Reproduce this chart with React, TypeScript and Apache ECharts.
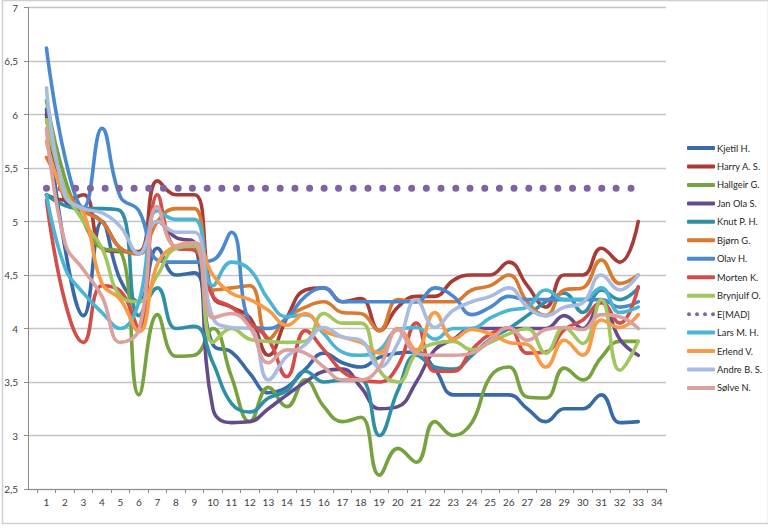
import React, { useEffect, useRef } from "react";
import * as echarts from "echarts";

const categories = [1, 2, 3, 4, 5, 6, 7, 8, 9, 10, 11, 12, 13, 14, 15, 16, 17, 18, 19, 20, 21, 22, 23, 24, 25, 26, 27, 28, 29, 30, 31, 32, 33, 34];
const yTicks = [2.5, 3, 3.5, 4, 4.5, 5, 5.5, 6, 6.5, 7];

const kjetil = [6.05, 4.75, 4.12, 5.0, 4.45, 4.25, 4.75, 4.5, 4.52, 3.85, 3.78, 3.58, 3.4, 3.45, 3.62, 3.77, 3.68, 3.64, 3.73, 3.77, 3.78, 3.62, 3.38, 3.38, 3.38, 3.38, 3.25, 3.13, 3.25, 3.25, 3.38, 3.12, 3.13];
const harry = [5.25, 5.2, 5.25, 4.75, 4.72, 4.72, 5.38, 5.25, 5.25, 4.3, 4.2, 4.1, 3.75, 4.1, 4.36, 4.38, 4.25, 4.28, 3.98, 4.2, 4.3, 4.3, 4.45, 4.5, 4.5, 4.62, 4.4, 4.2, 4.5, 4.5, 4.75, 4.62, 5.0];
const hallgeir = [6.13, 5.4, 5.0, 4.75, 4.72, 3.38, 4.13, 3.74, 3.75, 4.0, 3.55, 3.13, 3.45, 3.27, 3.52, 3.27, 3.13, 3.17, 2.63, 2.88, 2.75, 3.13, 3.0, 3.12, 3.55, 3.64, 3.36, 3.35, 3.63, 3.52, 3.73, 3.88, 3.88];
const janOla = [6.0, 5.2, 5.1, 5.0, 4.75, 4.7, 5.0, 4.85, 4.8, 3.25, 3.12, 3.13, 3.25, 3.38, 3.5, 3.6, 3.62, 3.45, 3.25, 3.27, 3.5, 3.8, 3.9, 4.0, 4.0, 4.0, 4.0, 4.0, 4.12, 4.0, 4.25, 3.9, 3.75];
const knut = [5.25, 5.15, 5.12, 5.12, 5.1, 4.12, 4.38, 4.0, 4.02, 3.68, 3.3, 3.22, 3.35, 3.42, 3.6, 3.5, 3.52, 3.52, 3.0, 3.42, 3.75, 3.64, 3.62, 3.75, 3.9, 4.0, 4.12, 4.25, 4.33, 4.15, 4.36, 4.27, 4.38];
const bjorn = [5.6, 5.3, 5.1, 5.0, 4.75, 4.7, 5.0, 5.12, 5.12, 4.36, 4.38, 4.4, 3.9, 4.1, 4.2, 4.25, 4.15, 4.14, 3.98, 4.27, 4.25, 4.25, 4.25, 4.36, 4.4, 4.5, 4.25, 4.12, 4.36, 4.38, 4.64, 4.42, 4.5];
const olav = [6.62, 5.6, 5.13, 5.87, 5.23, 5.1, 4.64, 4.62, 4.62, 4.64, 4.9, 4.05, 4.0, 4.1, 4.3, 4.38, 4.25, 4.25, 4.25, 4.25, 4.25, 4.38, 4.3, 4.13, 4.2, 4.3, 4.27, 4.27, 4.27, 4.27, 4.27, 4.2, 4.25];
const morten = [5.2, 4.25, 3.87, 4.4, 4.35, 4.0, 5.25, 4.75, 4.73, 4.3, 4.2, 4.05, 3.9, 3.55, 3.98, 3.8, 3.6, 3.52, 3.5, 3.65, 4.05, 3.6, 3.6, 3.8, 3.95, 4.0, 3.77, 3.78, 3.99, 4.08, 4.24, 4.05, 4.39];
const brynjulf = [5.95, 5.3, 5.0, 4.75, 4.3, 4.25, 4.5, 4.75, 4.77, 3.87, 4.0, 3.9, 3.88, 3.87, 3.88, 4.14, 4.05, 4.05, 3.61, 3.5, 3.77, 3.86, 3.88, 3.8, 3.87, 3.95, 4.0, 3.77, 4.01, 3.86, 4.27, 3.61, 3.88];
const emad = [5.31, 5.31, 5.31, 5.31, 5.31, 5.31, 5.31, 5.31, 5.31, 5.31, 5.31, 5.31, 5.31, 5.31, 5.31, 5.31, 5.31, 5.31, 5.31, 5.31, 5.31, 5.31, 5.31, 5.31, 5.31, 5.31, 5.31, 5.31, 5.31, 5.31, 5.31, 5.31, 5.31];
const lars = [5.25, 4.57, 4.33, 4.15, 4.0, 4.25, 5.1, 5.02, 5.02, 4.4, 4.62, 4.55, 4.27, 4.11, 4.13, 3.95, 3.78, 3.75, 3.8, 3.99, 4.01, 3.9, 4.0, 4.0, 4.1, 4.17, 4.2, 4.36, 4.27, 4.27, 4.38, 4.15, 4.2];
const erlend = [5.75, 5.23, 5.08, 4.42, 4.27, 3.97, 4.6, 4.77, 4.8, 4.5, 4.33, 4.27, 4.17, 4.03, 4.14, 3.98, 3.92, 3.87, 3.77, 4.0, 3.8, 4.15, 3.9, 3.99, 3.95, 3.87, 3.85, 3.64, 3.89, 3.75, 4.08, 4.01, 4.13];
const andre = [6.25, 5.25, 5.12, 5.08, 4.95, 4.7, 5.0, 4.9, 4.9, 4.1, 4.01, 4.0, 3.52, 3.74, 3.85, 4.01, 3.92, 3.89, 3.64, 3.86, 4.27, 4.01, 4.17, 4.25, 4.3, 4.38, 4.2, 4.12, 4.2, 4.24, 4.5, 4.36, 4.5];
const solve = [5.87, 4.8, 4.55, 4.3, 3.87, 3.99, 5.14, 4.77, 4.8, 4.1, 4.14, 4.01, 3.68, 3.8, 3.77, 3.64, 3.52, 3.52, 3.64, 3.99, 3.77, 3.75, 3.75, 3.77, 3.89, 4.01, 3.89, 3.99, 4.01, 3.99, 4.13, 4.11, 4.0];

const seriesNames = ["Kjetil H.", "Harry A. S.", "Hallgeir G.", "Jan Ola S.", "Knut P. H.", "Bjørn G.", "Olav H.", "Morten K.", "Brynjulf O.", "E[MAD]", "Lars M. H.", "Erlend V.", "Andre B. S.", "Sølve N."];
const seriesValues = [kjetil, harry, hallgeir, janOla, knut, bjorn, olav, morten, brynjulf, emad, lars, erlend, andre, solve];
const seriesColors = ["#386AA8", "#A63B37", "#77A33E", "#644B8C", "#2F8FA6", "#D87A30", "#4A88D0", "#D34D4A", "#A2C65E", "#8064A2", "#4BB5D5", "#F99A45", "#A8BBE0", "#DCA09E"];

const FONT = "Lato";
const dotsIcon =
  "path://M0,2a2,2 0 1,0 4,0a2,2 0 1,0 -4,0zM8,2a2,2 0 1,0 4,0a2,2 0 1,0 -4,0zM16,2a2,2 0 1,0 4,0a2,2 0 1,0 -4,0zM24,2a2,2 0 1,0 4,0a2,2 0 1,0 -4,0z";

export default function App() {
  const ref = useRef<HTMLDivElement>(null);
  useEffect(() => {
    if (!ref.current) return;
    const chart = echarts.init(ref.current, null, { renderer: "svg" });
    const series = seriesNames.map((name, k) => {
      const isMad = name === "E[MAD]";
      return {
        name,
        type: "line",
        smooth: 0.45,
        showSymbol: false,
        symbol: "none",
        data: seriesValues[k].map((v, i) => [categories[i], v]),
        lineStyle: isMad
          ? { color: seriesColors[k], width: 7, type: [0.01, 14.6], cap: "round" }
          : { color: seriesColors[k], width: 3.6, cap: "round", join: "round" },
        itemStyle: { color: seriesColors[k] },
        emphasis: { disabled: true },
      };
    });
    chart.setOption({
      animation: false,
      backgroundColor: "#ffffff",
      grid: { left: 28, right: 102, top: 7.5, bottom: 40, containLabel: false },
      xAxis: {
        type: "value",
        min: 0,
        max: 34.5,
        interval: 1,
        splitLine: { show: false },
        axisLine: { show: true, onZero: false, lineStyle: { color: "#8C8C8C", width: 1 } },
        axisTick: {
          show: true,
          length: 4,
          lineStyle: { color: "#8C8C8C" },
          customValues: categories.map((c) => c - 0.5).concat([34.5]),
        },
        axisLabel: {
          customValues: categories,
          color: "#404040",
          fontFamily: FONT,
          fontSize: 10,
          margin: 8,
        },
      },
      yAxis: {
        type: "value",
        min: 2.5,
        max: 7,
        interval: 0.5,
        axisLine: { show: true, lineStyle: { color: "#8C8C8C", width: 1 } },
        axisTick: { show: true, length: 4, lineStyle: { color: "#8C8C8C" } },
        splitLine: { show: true, lineStyle: { color: "#C4C4C4", width: 1.3 } },
        axisLabel: {
          color: "#404040",
          fontFamily: FONT,
          fontSize: 10,
          margin: 10,
          formatter: (v: number) => (yTicks.includes(v) ? String(v).replace(".", ",") : ""),
        },
      },
      legend: {
        orient: "vertical",
        left: 682,
        top: 136,
        itemWidth: 28,
        itemHeight: 4,
        itemGap: 4.46,
        textStyle: { color: "#262626", fontFamily: FONT, fontSize: 9.3, lineHeight: 14, padding: [0, 0, 0, -3] },
        data: seriesNames.map((name, k) =>
          name === "E[MAD]"
            ? { name, icon: dotsIcon, itemStyle: { color: seriesColors[k] } }
            : { name, icon: "roundRect", itemStyle: { color: seriesColors[k] } }
        ),
      },
      graphic: [
        {
          type: "rect",
          shape: { x: 2.5, y: 0.5, width: 766, height: 523 },
          style: { fill: "none", stroke: "#D0D0D0", lineWidth: 1.5 },
          silent: true,
        },
      ],
      series,
    });
    return () => chart.dispose();
  }, []);
  return (
    <div
      ref={ref}
      style={{ position: "fixed", left: 0, top: 0, width: 768, height: 529, background: "#fff" }}
    />
  );
}
